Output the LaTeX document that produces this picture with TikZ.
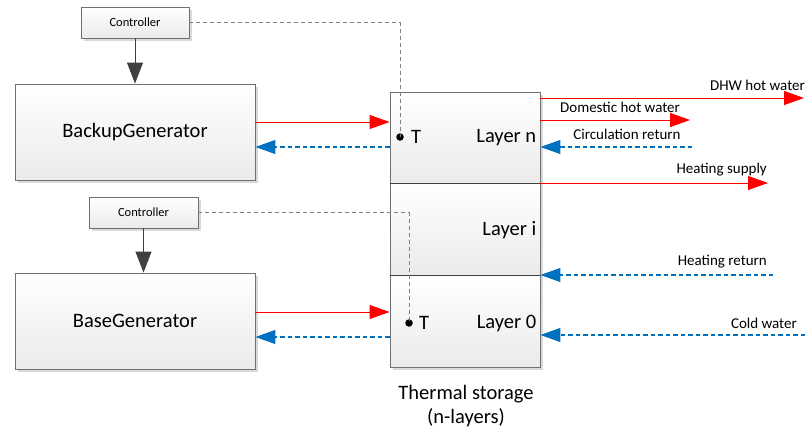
\documentclass[tikz,border=0pt]{standalone}
\usepackage{fontspec}
\setmainfont{Carlito}
\usetikzlibrary{arrows.meta,shadows}
\definecolor{myred}{RGB}{255,0,0}
\definecolor{myblue}{RGB}{0,112,192}
\definecolor{edgegray}{RGB}{112,112,112}
\definecolor{ctrlgray}{RGB}{64,64,64}
\definecolor{dashgray}{RGB}{128,128,128}
\begin{document}
\begin{tikzpicture}[x=1pt,y=-1pt,
  box/.style={draw=edgegray, line width=0.9pt, shading=axis, top color=white, bottom color=black!8,
    drop shadow={shadow xshift=3pt, shadow yshift=-3pt, fill=black!15, opacity=1}, inner sep=0pt},
  layerbox/.style={box, minimum width=150pt},
  big/.style={font=\fontsize{20.5}{24}\selectfont},
  mid/.style={font=\fontsize{15}{18}\selectfont},
  small/.style={font=\fontsize{12.5}{15}\selectfont},
  redarr/.style={color=myred, line width=0.9pt, -{Triangle[length=20pt,width=14pt]}},
  bluearr/.style={color=myblue, line width=1.05pt, dash pattern=on 4.5pt off 3pt, -{Triangle[length=20pt,width=14pt]}},
  ctrlarr/.style={color=ctrlgray, line width=0.9pt, -{Triangle[length=21pt,width=16pt]}},
  ctrldash/.style={color=dashgray, line width=0.8pt, dash pattern=on 4pt off 3pt},
  sensor/.style={circle, fill=black, minimum size=7.5pt, inner sep=0pt},
]
\useasboundingbox (0,0) rectangle (805,434);

% controllers and generators
\node[box, small, minimum width=108pt, minimum height=31pt] (c1) at (135,22.5) {Controller};
\node[box, big, minimum width=240pt, minimum height=96pt] (bk) at (135,132) {BackupGenerator};
\node[box, small, minimum width=109pt, minimum height=31pt] (c2) at (143.5,212.5) {Controller};
\node[box, big, minimum width=240pt, minimum height=96pt] (bs) at (135,321) {BaseGenerator};

% storage layers
\node[layerbox, minimum height=91pt] (ln) at (465,137.5) {};
\node[layerbox, minimum height=92pt] (li) at (465,229) {};
\node[layerbox, minimum height=92pt] (l0) at (465,321) {};
\draw[ctrlgray, line width=0.9pt] (ln.south west) -- (ln.south east);
\draw[ctrlgray, line width=0.9pt] (li.south west) -- (li.south east);

\node[big, anchor=east, inner sep=0pt] (lnt) at ([xshift=-4pt,yshift=-0.5pt]ln.east) {Layer n};
\node[big, anchor=east, inner sep=0pt] (lit) at ([xshift=-4pt,yshift=-1pt]li.east) {Layer i};
\node[big, anchor=east, inner sep=0pt] (l0t) at ([xshift=-4pt,yshift=-2pt]l0.east) {Layer 0};

\node[big, align=center, inner sep=0pt] (ts) at (466,406) {Thermal storage\\(n-layers)};

% sensors
\node[sensor] (t1) at (400,137) {};
\node[big, anchor=west, inner sep=0pt] (t1l) at (411,137) {T};
\node[sensor] (t2) at (409,323) {};
\node[big, anchor=west, inner sep=0pt] (t2l) at (419,323) {T};

% controller links
\draw[ctrlarr] (c1.south) -- (bk.north);
\draw[ctrlarr] (c2.south) -- (c2.south |- bs.north);
\draw[ctrldash] (c1.east) -| (t1.center);
\draw[ctrldash] (c2.east) -| (t2.center);

% generator - storage
\draw[redarr] ([yshift=10pt]bk.east) -- ([yshift=10pt]bk.east -| ln.west);
\draw[bluearr] ([yshift=-15pt]bk.east -| ln.west) -- ([yshift=-15pt]bk.east);
\draw[redarr] ([yshift=9pt]bs.east) -- ([yshift=9pt]bs.east -| l0.west);
\draw[bluearr] ([yshift=-16pt]bs.east -| l0.west) -- ([yshift=-16pt]bs.east);

% right side
\coordinate (dhw) at (804,98);
\coordinate (dom) at (690,120);
\coordinate (circ) at (692,147);
\coordinate (hsup) at (768,183);
\coordinate (hret) at (773,275);
\coordinate (cold) at (805,335);

\draw[redarr] (ln.east |- dhw) -- (dhw);
\draw[redarr] (ln.east |- dom) -- (dom);
\draw[bluearr] (circ) -- (ln.east |- circ);
\draw[redarr] (ln.east |- hsup) -- (hsup);
\draw[bluearr] (hret) -- (ln.east |- hret);
\draw[bluearr] (cold) -- (ln.east |- cold);

\node[mid, anchor=east, inner sep=0pt] (dhwl) at (805,85) {DHW hot water};
\node[mid, inner sep=0pt] (doml) at (620,107) {Domestic hot water};
\node[mid, inner sep=0pt] (circl) at (627,134) {Circulation return};
\node[mid, anchor=east, inner sep=0pt] (hsupl) at (767,170) {Heating supply};
\node[mid, anchor=east, inner sep=0pt] (hretl) at (767,262) {Heating return};
\node[mid, anchor=east, inner sep=0pt] (coldl) at (797,323) {Cold water};
\end{tikzpicture}
\end{document}
